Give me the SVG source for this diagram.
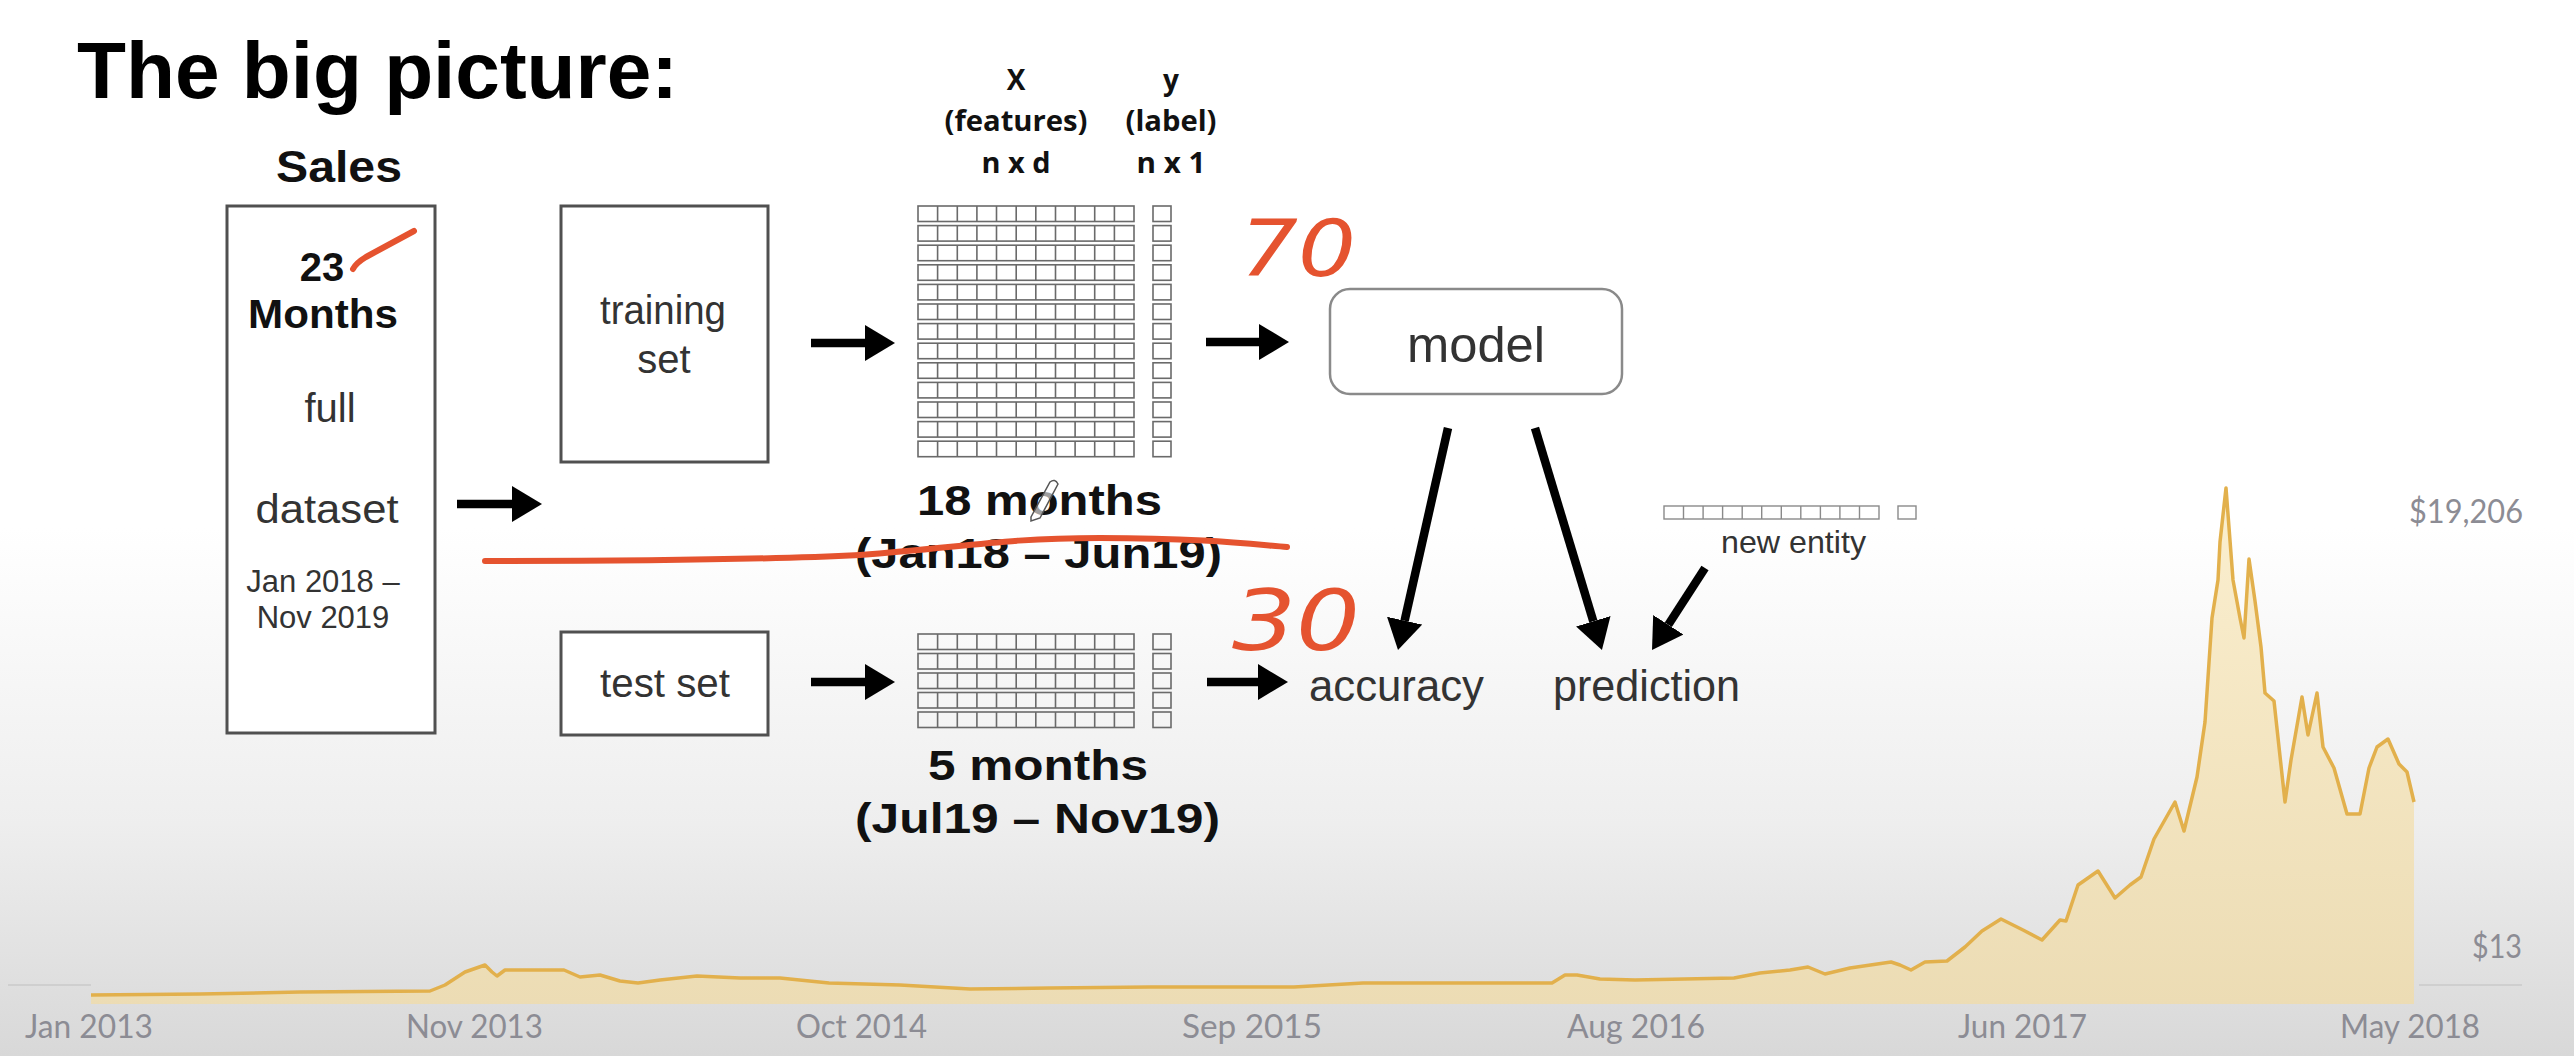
<svg xmlns="http://www.w3.org/2000/svg" width="2574" height="1056" viewBox="0 0 2574 1056">
<defs>
<linearGradient id="bg" x1="0" y1="0" x2="0" y2="1">
<stop offset="0" stop-color="#ffffff"/>
<stop offset="0.5" stop-color="#ffffff"/>
<stop offset="0.78" stop-color="#eeeeee"/>
<stop offset="1" stop-color="#d8d8d8"/>
</linearGradient>
<linearGradient id="chartFill" x1="0" y1="488" x2="0" y2="1005" gradientUnits="userSpaceOnUse">
<stop offset="0" stop-color="#fbefcf"/>
<stop offset="1" stop-color="#ecdcb4"/>
</linearGradient>
<marker id="ah" viewBox="0 0 30 36" refX="0" refY="18" markerWidth="30" markerHeight="36" markerUnits="userSpaceOnUse" orient="auto">
<path d="M0,0 L30,18 L0,36 Z" fill="#000"/>
</marker>
<g id="row11">
<rect x="0" y="0" width="216" height="15.5" fill="none"/>
<path d="M19.6,0v15.5M39.3,0v15.5M58.9,0v15.5M78.5,0v15.5M98.2,0v15.5M117.8,0v15.5M137.5,0v15.5M157.1,0v15.5M176.7,0v15.5M196.4,0v15.5"/>
<rect x="235" y="0" width="18" height="15.5" fill="none"/>
</g>
</defs>
<style>
.sans{font-family:"Liberation Sans",Arial,sans-serif}
.bold{font-weight:700}
.lbl{font-family:"Liberation Sans",Arial,sans-serif;fill:#333333}
.hdr{font-family:"Open Sans","Liberation Sans",sans-serif;font-weight:700;font-size:28px;fill:#111}
.axis{font-family:Lato,"Open Sans",sans-serif;font-size:32px;fill:#8c8c94}
.box{fill:#ffffff;stroke:#505050;stroke-width:3}
.grid{stroke:#6a6a6a;stroke-width:1.6;fill:none}
.conn{stroke:#000;stroke-width:8.5;fill:none;marker-end:url(#ah)}
.red{fill:none;stroke:#e5532f;stroke-width:6;stroke-linecap:round;stroke-linejoin:round}
.hand{font-family:"DejaVu Sans",sans-serif;fill:#e5532f;font-style:italic}
</style>
<rect x="0" y="0" width="2574" height="1056" fill="url(#bg)"/>

<g id="chart">
<line x1="8" y1="985" x2="91" y2="985" stroke="#cfcfcf" stroke-width="2"/>
<line x1="2419" y1="985" x2="2522" y2="985" stroke="#cfcfcf" stroke-width="2"/>
<path fill="url(#chartFill)" stroke="none" d="M91,995 L200,994 L300,992 L430,991 L445,985 L465,972 L485,965 L492,972 L497,976 L505,970 L527,970 L564,970 L580,977 L600,975 L620,981 L638,983 L660,980 L697,976 L740,978 L780,978 L829,983 L900,985 L970,989 L1050,988 L1150,987 L1294,987 L1363,983 L1450,983 L1552,983 L1565,975 L1577,975 L1600,979 L1635,980 L1734,978 L1760,973 L1790,970 L1808,967 L1825,974 L1850,968 L1891,962 L1900,965 L1911,970 L1925,962 L1947,961 L1965,947 L1982,931 L2001,919 L2023,930 L2042,940 L2060,920 L2066,921 L2078,885 L2098,871 L2115,898 L2130,885 L2141,877 L2154,839 L2175,802 L2184,831 L2197,777 L2205,722 L2212,618 L2218,580 L2220,542 L2226,488 L2233,580 L2240,618 L2244,638 L2249,559 L2255,601 L2261,647 L2265,693 L2274,701 L2285,802 L2291,760 L2302,697 L2308,735 L2317,693 L2323,747 L2334,768 L2347,814 L2360,814 L2369,768 L2377,747 L2388,739 L2399,764 L2407,772 L2414,802 L2414,1004 L91,1004 Z"/>
<path fill="none" stroke="#e2b04c" stroke-width="3.5" stroke-linejoin="round" d="M91,995 L200,994 L300,992 L430,991 L445,985 L465,972 L485,965 L492,972 L497,976 L505,970 L527,970 L564,970 L580,977 L600,975 L620,981 L638,983 L660,980 L697,976 L740,978 L780,978 L829,983 L900,985 L970,989 L1050,988 L1150,987 L1294,987 L1363,983 L1450,983 L1552,983 L1565,975 L1577,975 L1600,979 L1635,980 L1734,978 L1760,973 L1790,970 L1808,967 L1825,974 L1850,968 L1891,962 L1900,965 L1911,970 L1925,962 L1947,961 L1965,947 L1982,931 L2001,919 L2023,930 L2042,940 L2060,920 L2066,921 L2078,885 L2098,871 L2115,898 L2130,885 L2141,877 L2154,839 L2175,802 L2184,831 L2197,777 L2205,722 L2212,618 L2218,580 L2220,542 L2226,488 L2233,580 L2240,618 L2244,638 L2249,559 L2255,601 L2261,647 L2265,693 L2274,701 L2285,802 L2291,760 L2302,697 L2308,735 L2317,693 L2323,747 L2334,768 L2347,814 L2360,814 L2369,768 L2377,747 L2388,739 L2399,764 L2407,772 L2414,802"/>
<text class="axis" x="2409" y="523" textLength="114" lengthAdjust="spacingAndGlyphs" fill="#a8a8ae">$19,206</text>
<text class="axis" x="2472" y="958" textLength="50" lengthAdjust="spacingAndGlyphs">$13</text>
<text class="axis" x="25" y="1038" textLength="128" lengthAdjust="spacingAndGlyphs">Jan 2013</text>
<text class="axis" x="406" y="1038" textLength="137" lengthAdjust="spacingAndGlyphs">Nov 2013</text>
<text class="axis" x="796" y="1038" textLength="131" lengthAdjust="spacingAndGlyphs">Oct 2014</text>
<text class="axis" x="1182" y="1038" textLength="140" lengthAdjust="spacingAndGlyphs">Sep 2015</text>
<text class="axis" x="1567" y="1038" textLength="138" lengthAdjust="spacingAndGlyphs">Aug 2016</text>
<text class="axis" x="1958" y="1038" textLength="129" lengthAdjust="spacingAndGlyphs">Jun 2017</text>
<text class="axis" x="2340" y="1038" textLength="140" lengthAdjust="spacingAndGlyphs">May 2018</text>
</g>

<g id="title">
<text class="sans bold" x="77" y="98" font-size="80" textLength="601" lengthAdjust="spacingAndGlyphs" fill="#000">The big picture:</text>
</g>

<g id="sales">
<text class="sans bold" x="339" y="182" font-size="44" text-anchor="middle" textLength="126" lengthAdjust="spacingAndGlyphs" fill="#111">Sales</text>
<rect class="box" x="227" y="206" width="208" height="527"/>
<text class="sans bold" x="322" y="281" font-size="40" text-anchor="middle" fill="#111">23</text>
<text class="sans bold" x="323" y="328" font-size="40" text-anchor="middle" textLength="150" lengthAdjust="spacingAndGlyphs" fill="#111">Months</text>
<text class="lbl" x="330" y="422" font-size="40" text-anchor="middle">full</text>
<text class="lbl" x="327" y="523" font-size="40" text-anchor="middle" textLength="143" lengthAdjust="spacingAndGlyphs">dataset</text>
<text class="lbl" x="323" y="592" font-size="31" text-anchor="middle" fill="#222">Jan 2018 –</text>
<text class="lbl" x="323" y="628" font-size="31" text-anchor="middle" fill="#222">Nov 2019</text>
</g>

<g id="training-set">
<rect class="box" x="561" y="206" width="207" height="256"/>
<text class="lbl" x="663" y="324" font-size="40" text-anchor="middle" textLength="126" lengthAdjust="spacingAndGlyphs">training</text>
<text class="lbl" x="664" y="373" font-size="40" text-anchor="middle">set</text>
</g>

<g id="test-set">
<rect class="box" x="561" y="632" width="207" height="103"/>
<text class="lbl" x="665" y="697" font-size="40" text-anchor="middle" textLength="130" lengthAdjust="spacingAndGlyphs">test set</text>
</g>

<g id="headers">
<text class="hdr" x="1016" y="90" text-anchor="middle">X</text>
<text class="hdr" x="1016" y="131" text-anchor="middle" textLength="143" lengthAdjust="spacingAndGlyphs">(features)</text>
<text class="hdr" x="1016" y="173" text-anchor="middle" textLength="69" lengthAdjust="spacingAndGlyphs">n x d</text>
<text class="hdr" x="1171" y="90" text-anchor="middle">y</text>
<text class="hdr" x="1171" y="131" text-anchor="middle" textLength="91" lengthAdjust="spacingAndGlyphs">(label)</text>
<text class="hdr" x="1171" y="173" text-anchor="middle" textLength="69" lengthAdjust="spacingAndGlyphs">n x 1</text>
</g>

<g id="train-matrix" class="grid">
<use href="#row11" x="918" y="206"/>
<use href="#row11" x="918" y="225.6"/>
<use href="#row11" x="918" y="245.2"/>
<use href="#row11" x="918" y="264.8"/>
<use href="#row11" x="918" y="284.4"/>
<use href="#row11" x="918" y="304"/>
<use href="#row11" x="918" y="323.6"/>
<use href="#row11" x="918" y="343.2"/>
<use href="#row11" x="918" y="362.8"/>
<use href="#row11" x="918" y="382.4"/>
<use href="#row11" x="918" y="402"/>
<use href="#row11" x="918" y="421.6"/>
<use href="#row11" x="918" y="441.2"/>
</g>
<g id="train-label">
<text class="sans bold" x="917" y="515" font-size="42" textLength="245" lengthAdjust="spacingAndGlyphs" fill="#111">18 months</text>
<path d="M1031,517 L1050,482 Q1055,478 1058,484 L1040,518 L1031,521 Z" fill="#ffffff" fill-opacity="0.6" stroke="#555" stroke-width="1.5"/>
<text class="sans bold" x="855" y="568" font-size="42" textLength="367" lengthAdjust="spacingAndGlyphs" fill="#111">(Jan18 – Jun19)</text>
</g>

<g id="test-matrix" class="grid">
<use href="#row11" x="918" y="634"/>
<use href="#row11" x="918" y="653.5"/>
<use href="#row11" x="918" y="673"/>
<use href="#row11" x="918" y="692.5"/>
<use href="#row11" x="918" y="712"/>
</g>
<g id="test-label">
<text class="sans bold" x="928" y="780" font-size="42" textLength="220" lengthAdjust="spacingAndGlyphs" fill="#111">5 months</text>
<text class="sans bold" x="855" y="833" font-size="42" textLength="365" lengthAdjust="spacingAndGlyphs" fill="#111">(Jul19 – Nov19)</text>
</g>

<g id="model">
<rect x="1330" y="289" width="292" height="105" rx="20" ry="20" fill="#ffffff" stroke="#8a8a8a" stroke-width="2.5"/>
<text class="lbl" x="1476" y="362" font-size="50" text-anchor="middle" textLength="138" lengthAdjust="spacingAndGlyphs">model</text>
</g>

<g id="accuracy">
<text class="lbl" x="1309" y="701" font-size="44" textLength="175" lengthAdjust="spacingAndGlyphs">accuracy</text>
</g>
<g id="prediction">
<text class="lbl" x="1553" y="701" font-size="44" textLength="187" lengthAdjust="spacingAndGlyphs">prediction</text>
</g>

<g id="new-entity">
<g stroke="#8a8a8a" stroke-width="1.4" fill="none">
<rect x="1664" y="506" width="215" height="13"/>
<path d="M1683.5,506v13M1703.1,506v13M1722.6,506v13M1742.2,506v13M1761.7,506v13M1781.3,506v13M1800.8,506v13M1820.4,506v13M1839.9,506v13M1859.5,506v13"/>
<rect x="1898" y="506" width="18" height="13"/>
</g>
<text class="lbl" x="1721" y="553" font-size="32" textLength="145" lengthAdjust="spacingAndGlyphs" fill="#555">new entity</text>
</g>

<g id="connectors">
<line class="conn" x1="457" y1="504" x2="512" y2="504"/>
<line class="conn" x1="811" y1="343" x2="865" y2="343"/>
<line class="conn" x1="1206" y1="342" x2="1259" y2="342"/>
<line class="conn" x1="811" y1="682" x2="865" y2="682"/>
<line class="conn" x1="1207" y1="682" x2="1258" y2="682"/>
<line class="conn" x1="1448" y1="428" x2="1404.6" y2="620.7"/>
<line class="conn" x1="1535" y1="428" x2="1593.3" y2="621.3"/>
<line class="conn" x1="1705" y1="568" x2="1668.3" y2="624.8"/>
</g>

<g id="annotations">
<path class="red" d="M353,269 Q356,263 366,257 L414,231"/>
<path class="red" d="M485,561 C600,561 760,560 860,555 C960,548 1000,538 1100,538 C1200,538 1250,544 1287,547"/>
<text class="hand" x="1240" y="276" font-size="78" textLength="116" lengthAdjust="spacingAndGlyphs">70</text>
<text class="hand" x="1232" y="650" font-size="84" textLength="128" lengthAdjust="spacingAndGlyphs">30</text>
</g>
</svg>
